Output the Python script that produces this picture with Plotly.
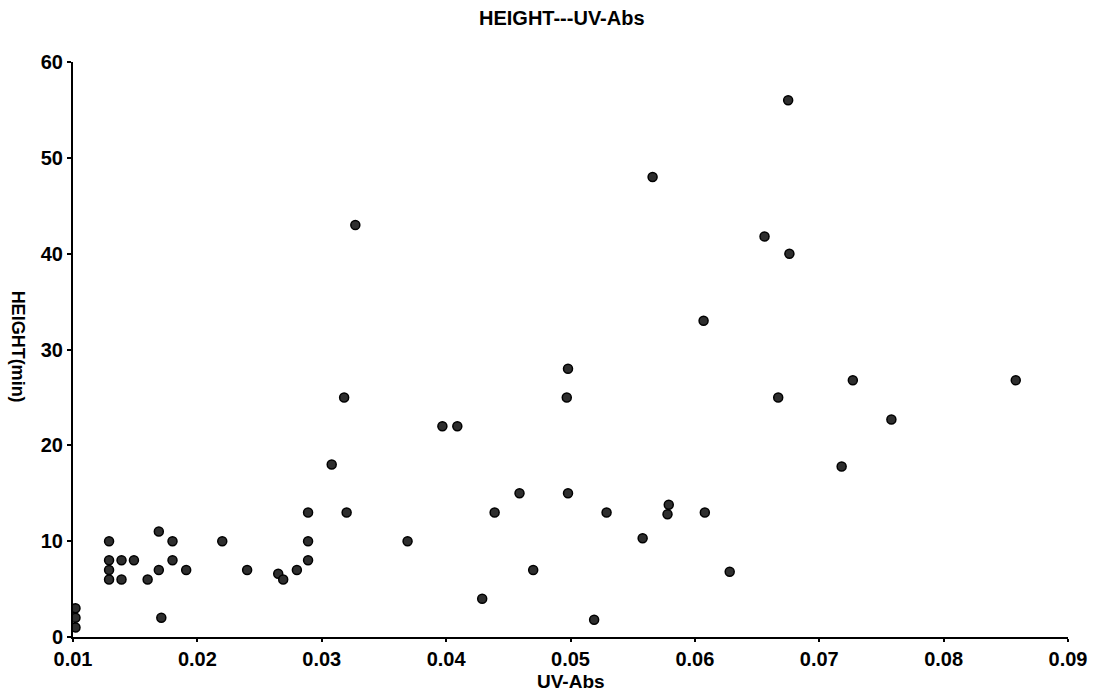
import plotly.graph_objects as go

uv_abs = [0.0102, 0.0102, 0.0102,
          0.0129, 0.0129, 0.0129, 0.0129,
          0.0139, 0.0139, 0.0149, 0.0160,
          0.0169, 0.0169, 0.0171, 0.0180, 0.0180, 0.0191,
          0.0220, 0.0240, 0.0265, 0.0269, 0.0280,
          0.0289, 0.0289, 0.0289, 0.0308, 0.0318, 0.0320, 0.0327,
          0.0369, 0.0397, 0.0409, 0.0429, 0.0439, 0.0459, 0.0470,
          0.0498, 0.0497, 0.0498, 0.0519, 0.0529, 0.0558,
          0.0566, 0.0579, 0.0578, 0.0607, 0.0608, 0.0628,
          0.0656, 0.0667, 0.0675, 0.0676, 0.0718, 0.0727, 0.0758, 0.0858]
height_min = [3, 2, 1,
              10, 8, 7, 6,
              8, 6, 8, 6,
              11, 7, 2, 10, 8, 7,
              10, 7, 6.6, 6, 7,
              13, 10, 8, 18, 25, 13, 43,
              10, 22, 22, 4, 13, 15, 7,
              28, 25, 15, 1.8, 13, 10.3,
              48, 13.8, 12.8, 33, 13, 6.8,
              41.8, 25, 56, 40, 17.8, 26.8, 22.7, 26.8]

x_ticks = [0.01, 0.02, 0.03, 0.04, 0.05, 0.06, 0.07, 0.08, 0.09]
x_tick_labels = ["0.01", "0.02", "0.03", "0.04", "0.05", "0.06", "0.07", "0.08", "0.09"]
y_ticks = [0, 10, 20, 30, 40, 50, 60]

font_family = "Liberation Sans, Arial, sans-serif"

fig = go.Figure()
fig.add_trace(go.Scatter(
    x=uv_abs, y=height_min, mode="markers",
    marker=dict(size=9, color="#2e2e2e", line=dict(color="black", width=1.5)),
    showlegend=False,
))

fig.update_layout(
    width=1101, height=694,
    margin=dict(l=73, r=33, t=62, b=57),
    paper_bgcolor="white", plot_bgcolor="white",
    font=dict(family=font_family, color="black"),
    xaxis=dict(
        range=[0.01, 0.09], tickvals=x_ticks, ticktext=x_tick_labels,
        showgrid=False, zeroline=False, showline=True, linecolor="black", linewidth=2,
        ticks="outside", ticklen=3, tickwidth=1.5, tickcolor="black",
        tickfont=dict(size=20, family=font_family, weight="bold"),
    ),
    yaxis=dict(
        range=[0, 60], tickvals=y_ticks,
        showgrid=False, zeroline=False, showline=True, linecolor="black", linewidth=2,
        ticks="outside", ticklen=4, tickwidth=1.5, tickcolor="black",
        tickfont=dict(size=20, family=font_family, weight="bold"),
    ),
    annotations=[
        dict(text="<b>HEIGHT---UV-Abs</b>", xref="paper", yref="paper",
             x=0.4915, y=1, yshift=44, xanchor="center", yanchor="middle", showarrow=False,
             font=dict(size=20, family=font_family)),
        dict(text="<b>UV-Abs</b>", xref="paper", yref="paper",
             x=0.5, y=0, yshift=-44, xanchor="center", yanchor="middle", showarrow=False,
             font=dict(size=19, family=font_family)),
        dict(text="<b>HEIGHT(min)</b>", xref="paper", yref="paper",
             x=0, xshift=-55, y=0.505, xanchor="center", yanchor="middle",
             showarrow=False, textangle=90,
             font=dict(size=18, family=font_family)),
    ],
)

fig.write_html("out.html")
